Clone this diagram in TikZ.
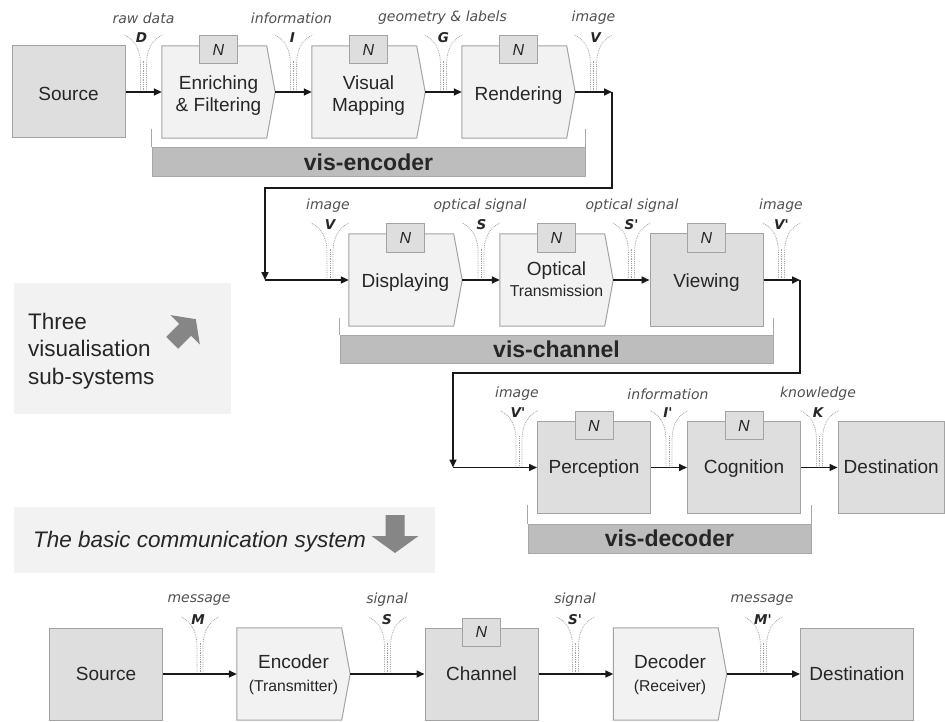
\documentclass[tikz,border=0pt]{standalone}
\usepackage{fontspec}
\setmainfont{Liberation Sans}
\newfontfamily\lblfont{DejaVu Sans}
\usetikzlibrary{arrows.meta,backgrounds}
\definecolor{darkf}{HTML}{DEDEDE}
\definecolor{lightf}{HTML}{F2F2F2}
\definecolor{bordc}{HTML}{A3A3A3}
\definecolor{barf}{HTML}{BDBDBD}
\definecolor{barb}{HTML}{A8A8A8}
\definecolor{txtc}{HTML}{262626}
\definecolor{wordc}{HTML}{505050}
\definecolor{func}{HTML}{A0A0A0}
\definecolor{iconc}{HTML}{868686}
% lower a (possibly multi-line) box text without changing its reported size
\newcommand{\boxtxt}[2][3pt]{\raisebox{-#1}[\height][\depth]{\begin{tabular}{@{}c@{}}#2\end{tabular}}}
\begin{document}
\begin{tikzpicture}[x=1pt,y=-1pt,
  dbox/.style={draw=bordc, fill=darkf, line width=1pt, minimum width=113pt, minimum height=92pt,
    inner sep=0pt, align=center, font=\fontsize{19}{22}\selectfont, text=txtc},
  pbox/.style={minimum width=113pt, minimum height=92pt, inner sep=0pt, align=center,
    font=\fontsize{19}{22}\selectfont, text=txtc},
  pent/.style={draw=bordc, fill=lightf, line width=1pt},
  nbox/.style={draw=bordc, fill=darkf, line width=1pt, minimum width=38pt, minimum height=28pt,
    inner sep=0pt, font=\fontsize{16}{18}\selectfont\itshape, text=txtc},
  bar/.style={draw=barb, fill=barf, line width=1pt, inner sep=0pt,
    font=\fontsize{23}{26}\selectfont\bfseries, text=txtc},
  brk/.style={draw=barb, line width=1pt},
  conn/.style={draw=black!90, line width=1.6pt, -{Triangle[length=8pt,width=7pt]}},
  fun/.style={draw=func, line width=0.8pt, densely dotted},
  word/.style={font=\lblfont\itshape\fontsize{14}{16}\selectfont, text=wordc, inner sep=0pt},
  letter/.style={font=\lblfont\bfseries\itshape\fontsize{13.5}{15}\selectfont, text=black!85, inner sep=0pt},
  legbox/.style={fill=lightf, draw=none, inner sep=0pt},
  legtxt/.style={font=\fontsize{22.5}{27.5}\selectfont, text=txtc, inner sep=0pt},
  funnel/.pic={
    \draw[fun] (-3,0) -- (-3,-26) .. controls (-3,-44) and (-9,-52) .. (-19,-57);
    \draw[fun] (3,0) -- (3,-26) .. controls (3,-44) and (9,-52) .. (19,-57);
    \draw[fun] (0,0) -- (0,-32);
  }]
\useasboundingbox (0,0) rectangle (945,722);

% ---------- legend boxes ----------
\node[legbox, minimum width=217pt, minimum height=131pt] (leg1) at (122.5,348.5) {};
\node[legtxt, anchor=west, align=left] (leg1t) at (28,351) {Three\\visualisation\\sub-systems};
\fill[iconc, shift={(184,331)}, rotate=135, scale=0.88]
  (-9.5,-19) -- (9.5,-19) -- (9.5,2) -- (23.5,2) -- (0,19) -- (-23.5,2) -- (-9.5,2) -- cycle;

\node[legbox, minimum width=421pt, minimum height=66pt] (leg2) at (224.5,540) {};
\node[legtxt, anchor=west, font=\fontsize{22.5}{27}\selectfont\itshape] (leg2t) at (33,542) {The basic communication system};
\fill[iconc, shift={(395,534)}]
  (-9.5,-19) -- (9.5,-19) -- (9.5,2) -- (23.5,2) -- (0,19) -- (-23.5,2) -- (-9.5,2) -- cycle;

% ---------- row 1: vis-encoder ----------
\node[dbox] (src1) at (68.5,92) {\boxtxt[4pt]{Source}};
\node[pbox] (enr) at (218.5,92) {\boxtxt[4pt]{Enriching\\\& Filtering}};
\node[pbox] (vmap) at (368.5,92) {\boxtxt[4pt]{Visual\\Mapping}};
\node[pbox] (rend) at (518.5,92) {\boxtxt[4pt]{Rendering}};
\node[nbox] (n1) at (218.5,50) {N};
\node[nbox] (n2) at (368.5,50) {N};
\node[nbox] (n3) at (518.5,50) {N};
\coordinate (c1) at (612,92);
\coordinate (k2) at (265,188);
\coordinate (c2) at (265,280);

\node[bar, minimum width=433pt, minimum height=29pt] (bar1) at (368.5,162.5) {vis-encoder};
\draw[brk] (bar1.north west) -- ++(0,-18);
\draw[brk] (bar1.north east) -- ++(0,-18);

% ---------- row 2: vis-channel ----------
\node[pbox] (disp) at (405.5,280) {\boxtxt{Displaying}};
\node[pbox] (opt) at (556.5,280) {\boxtxt[2pt]{Optical\\[-1pt]{\fontsize{15.8}{18}\selectfont Transmission}}};
\node[dbox] (view) at (706.5,280) {\boxtxt{Viewing}};
\node[nbox] (n4) at (405.5,238) {N};
\node[nbox] (n5) at (556.5,238) {N};
\node[nbox] (n6) at (706.5,238) {N};
\coordinate (c3) at (800,280);
\coordinate (k4) at (453,373);
\coordinate (c4) at (453,467.5);

\node[bar, minimum width=433pt, minimum height=28pt] (bar2) at (556.5,349) {vis-channel};
\draw[brk] (bar2.north west) -- ++(0,-17);
\draw[brk] (bar2.north east) -- ++(0,-17);

% ---------- row 3: vis-decoder ----------
\node[dbox] (perc) at (594,467.5) {\boxtxt[2pt]{Perception}};
\node[dbox] (cogn) at (744,467.5) {\boxtxt[2pt]{Cognition}};
\node[dbox, minimum width=106.5pt] (dest1) at (891.25,467.5) {\boxtxt[2pt]{Destination}};
\node[nbox] (n7) at (594,425.5) {N};
\node[nbox] (n8) at (744,425.5) {N};

\node[bar, minimum width=283pt, minimum height=29pt] (bar3) at (669.5,538.5) {vis-decoder};
\draw[brk] (bar3.north west) -- ++(0,-19);
\draw[brk] (bar3.north east) -- ++(0,-19);

% ---------- bottom row: basic communication system ----------
\node[dbox] (src2) at (106,674) {\boxtxt[2pt]{Source}};
\node[pbox] (enc) at (293.5,674) {\boxtxt[2pt]{Encoder\\[1pt]{\fontsize{15.7}{18}\selectfont (Transmitter)}}};
\node[dbox] (chan) at (481.5,674) {\boxtxt[2pt]{Channel}};
\node[pbox] (dec) at (670,674) {\boxtxt[2pt]{Decoder\\[1pt]{\fontsize{15.7}{18}\selectfont (Receiver)}}};
\node[dbox] (dest2) at (857,674) {\boxtxt[2pt]{Destination}};
\node[nbox] (n9) at (481.5,632) {N};

% ---------- pentagon outlines (behind the texts) ----------
\begin{scope}[on background layer]
\foreach \p in {enr,vmap,rend,disp,opt,enc,dec}{
  \filldraw[pent] (\p.north west) -- ([xshift=-8.5pt]\p.north east) -- (\p.east)
     -- ([xshift=-8.5pt]\p.south east) -- (\p.south west) -- cycle;
}
\end{scope}

% ---------- funnels and their labels ----------
\pic at (143.5,92) {funnel};
\pic at (293.5,92) {funnel};
\pic at (443.5,92) {funnel};
\pic at (593.5,92) {funnel};
\node[word] (w1) at (143.5,18) {raw data};
\node[letter] (l1) at (141.5,38) {D};
\node[word] (w2) at (291.5,18) {information};
\node[letter] (l2) at (292.5,38) {I};
\node[word] (w3) at (442.5,18) {geometry \& labels};
\node[letter] (l3) at (443.5,38) {G};
\node[word] (w4) at (593.5,18) {image};
\node[letter] (l4) at (595.5,38) {V};

\pic at (330,280) {funnel};
\pic at (481,280) {funnel};
\pic at (631.5,280) {funnel};
\pic at (781.5,280) {funnel};
\node[word] (w5) at (328,206) {image};
\node[letter] (l5) at (330,225) {V};
\node[word] (w6) at (480,206) {optical signal};
\node[letter] (l6) at (481.5,225) {S};
\node[word] (w7) at (632,206) {optical signal};
\node[letter] (l7) at (631.5,225) {S'};
\node[word] (w8) at (781,206) {image};
\node[letter] (l8) at (781.5,225) {V'};

\pic at (519,467.5) {funnel};
\pic at (669,467.5) {funnel};
\pic at (819.5,467.5) {funnel};
\node[word] (w9) at (517,394) {image};
\node[letter] (l9) at (518,413) {V'};
\node[word] (w10) at (668,394) {information};
\node[letter] (l10) at (668,413) {I'};
\node[word] (w11) at (818,394) {knowledge};
\node[letter] (l11) at (818,413) {K};

\pic at (200,674) {funnel};
\pic at (387.5,674) {funnel};
\pic at (575.5,674) {funnel};
\pic at (763.5,674) {funnel};
\node[word] (w12) at (199,600) {message};
\node[letter] (l12) at (198,620) {M};
\node[word] (w13) at (387,600) {signal};
\node[letter] (l13) at (387,620) {S};
\node[word] (w14) at (575,600) {signal};
\node[letter] (l14) at (575,620) {S'};
\node[word] (w15) at (762,600) {message};
\node[letter] (l15) at (763,620) {M'};

% ---------- connectors ----------
\draw[conn] (src1.east) -- (enr.west);
\draw[conn] (enr.east) -- (vmap.west);
\draw[conn] (vmap.east) -- (rend.west);
\draw[conn] (rend.east) -- (c1);
\draw[conn] (c1) |- (k2) -- (c2);
\draw[conn] (c2) -- (disp.west);
\draw[conn] (disp.east) -- (opt.west);
\draw[conn] (opt.east) -- (view.west);
\draw[conn] (view.east) -- (c3);
\draw[conn] (c3) |- (k4) -- (c4);
\draw[conn] (c4) -- (perc.west);
\draw[conn] (perc.east) -- (cogn.west);
\draw[conn] (cogn.east) -- (dest1.west);
\draw[conn] (src2.east) -- (enc.west);
\draw[conn] (enc.east) -- (chan.west);
\draw[conn] (chan.east) -- (dec.west);
\draw[conn] (dec.east) -- (dest2.west);
\end{tikzpicture}
\end{document}
